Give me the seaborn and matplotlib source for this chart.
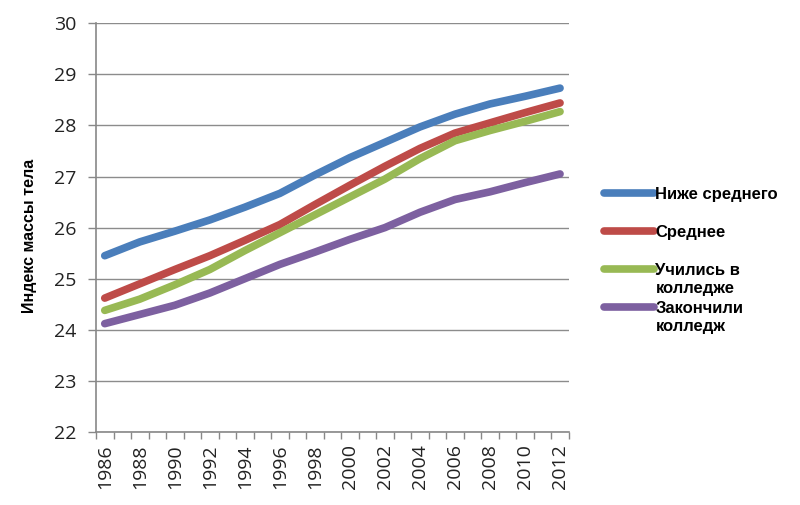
import numpy as np
import pandas as pd
import seaborn as sns
import matplotlib.pyplot as plt
from matplotlib.ticker import FixedLocator

# Values (body mass index by education level)
years = [1986, 1988, 1990, 1992, 1994, 1996, 1998, 2000, 2002, 2004, 2006, 2008, 2010, 2012]
below_avg = [25.45, 25.72, 25.93, 26.15, 26.40, 26.67, 27.03, 27.37, 27.67, 27.97, 28.22, 28.42, 28.57, 28.73]
average = [24.62, 24.90, 25.18, 25.45, 25.75, 26.06, 26.45, 26.83, 27.20, 27.55, 27.85, 28.05, 28.25, 28.44]
some_college = [24.38, 24.60, 24.88, 25.18, 25.55, 25.90, 26.25, 26.60, 26.95, 27.35, 27.70, 27.90, 28.08, 28.27]
college_grad = [24.12, 24.30, 24.48, 24.72, 25.00, 25.28, 25.52, 25.77, 26.00, 26.30, 26.55, 26.70, 26.88, 27.05]

series_names = ["Ниже среднего", "Среднее", "Учились в колледже", "Закончили колледж"]
legend_labels = ["Ниже среднего\n", "Среднее\n", "Учились в\nколледже", "Закончили\nколледж"]
colors = ["#4A7EBB", "#BE4B48", "#98B954", "#7D60A0"]
y_ticks = [22, 23, 24, 25, 26, 27, 28, 29, 30]

df = pd.DataFrame({
    "year": years * 4,
    "bmi": below_avg + average + some_college + college_grad,
    "group": sum([[n] * len(years) for n in series_names], []),
})

sns.set_style("white")
plt.rcParams['font.family'] = ['Liberation Sans', 'DejaVu Sans']

fig = plt.figure(figsize=(8, 5.05), dpi=100)
ax = fig.add_axes([0.12, 0.1446, 0.591, 0.8094])

sns.lineplot(data=df, x="year", y="bmi", hue="group", hue_order=series_names,
             palette=colors, linewidth=5.5, ax=ax, legend=False)
for line in ax.get_lines():
    line.set_solid_capstyle("round")
    line.set_solid_joinstyle("round")

ax.set_xlim(1985.5, 2012.5)
ax.set_ylim(22, 30)
ax.set_yticks(y_ticks)
ax.set_xticks(years)
ax.set_xticklabels([str(y) for y in years], rotation=90, fontsize=14,
                   fontfamily="Open Sans", color="#222222")
ax.set_yticklabels([str(y) for y in y_ticks], fontsize=14,
                   fontfamily="Open Sans", color="#222222")
ax.xaxis.set_minor_locator(FixedLocator(np.arange(1985.5, 2013, 1.0)))
ax.tick_params(axis="x", which="major", length=0, pad=9)
ax.tick_params(axis="x", which="minor", length=5, width=1, color="#888888", direction="out", bottom=True)
ax.tick_params(axis="y", which="major", length=6, width=1, color="#888888", direction="out", left=True, pad=8)

ax.grid(axis="y", color="#8c8c8c", linewidth=1)
ax.set_axisbelow(True)
for side in ["top", "right"]:
    ax.spines[side].set_visible(False)
for side in ["left", "bottom"]:
    ax.spines[side].set_color("#888888")
    ax.spines[side].set_linewidth(1.2)

ax.set_xlabel("")
ax.set_ylabel("Индекс массы тела", fontsize=11.5, fontweight="bold", color="black")
ax.yaxis.set_label_coords(-0.124, 0.48)

handles = ax.get_lines()[:4]
leg = ax.legend(handles, legend_labels, loc="upper left", bbox_to_anchor=(0.736, 0.66),
                bbox_transform=fig.transFigure, frameon=False, handlelength=3.0,
                handletextpad=0.1, labelspacing=0.35, borderpad=0.4,
                prop={"size": 12, "weight": "bold"})
for t in leg.get_texts():
    t.set_linespacing(1.2)
    t.set_color("black")
# handles sit level with the first text line, as in the original
for column in leg._legend_handle_box.get_children():
    for item in column.get_children():
        item.align = "top"

fig.savefig("out.png", dpi=100)
